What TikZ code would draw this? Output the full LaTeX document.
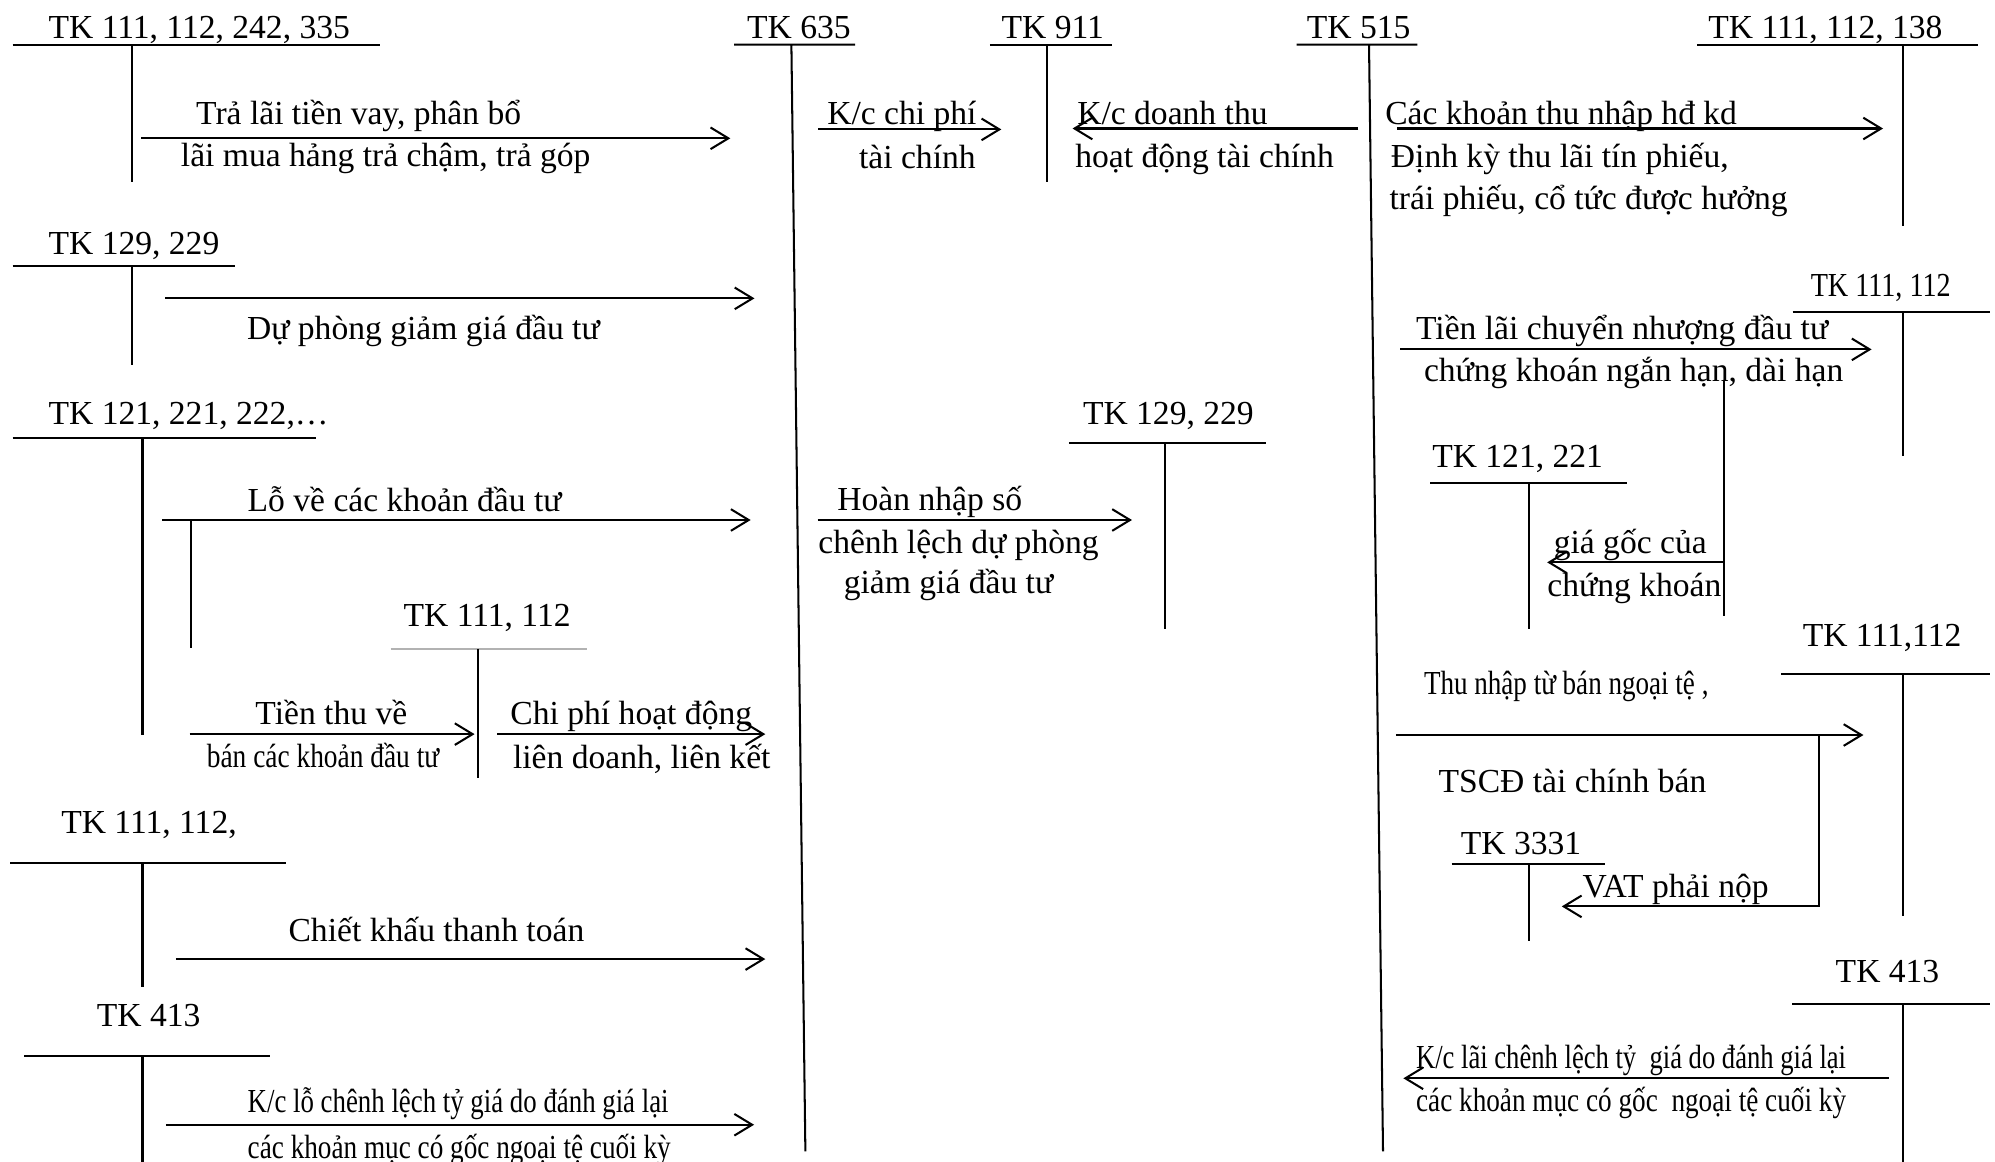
\documentclass[tikz,border=0pt]{standalone}
\usepackage{fontspec}
\setmainfont{Liberation Serif}
\usetikzlibrary{arrows.meta}
% horizontally condensed text of a given width
\newcommand\narrowtext[2]{\resizebox{#1pt}{\height}{#2}}
% T-account: name, left, right, y of bar, stem x at top, stem x at bottom, stem end y
\newcommand\tacct[7]{%
  \coordinate (#1-l) at (#2,#4); \coordinate (#1-r) at (#3,#4);
  \coordinate (#1-t) at (#5,#4); \coordinate (#1-b) at (#6,#7);
  \draw[acct] (#1-l) -- (#1-r) (#1-t) -- (#1-b);}
\begin{document}
\begin{tikzpicture}[x=1pt,y=-1pt,
  every node/.style={inner sep=0pt, anchor=base west, font=\fontsize{26.4}{30}\selectfont},
  acct/.style={line width=1.6pt},
  flow/.style={line width=1.6pt, -{Straight Barb[length=14pt,width=17pt,line width=1.6pt]}},
  plain/.style={line width=1.6pt}]
\useasboundingbox[fill=white] (0,0) rectangle (1568,913);

% ---------- account headers ----------
\node (h1) at (38,30) {TK 111, 112, 242, 335};
\node (h2) at (587,30) {TK 635};
\node (h3) at (787,30) {TK 911};
\node (h4) at (1027,30) {TK 515};
\node (h5) at (1342.5,30) {TK 111, 112, 138};
\node (h6) at (38,200) {TK 129, 229};
\node (h7) at (1423,233) {\narrowtext{110}{TK 111, 112}};
\node (h8) at (38,334) {TK 121, 221, 222,…};
\node (h9) at (851,334) {TK 129, 229};
\node (h10) at (1125.5,367.7) {TK 121, 221};
\node (h11) at (317,492.6) {TK 111, 112};
\node (h12) at (1416.7,508) {TK 111,112};
\node (h13) at (48,655) {TK 111, 112,};
\node (h14) at (1148,671.5) {TK 3331};
\node (h15) at (1442.6,772.4) {TK 413};
\node (h16) at (76,807) {TK 413};

\tacct{t1}{10}{299}{35}{104}{104}{143}
\tacct{t2}{577}{672}{35}{622}{633}{905}
\tacct{t3}{778}{874}{35}{823}{823}{143}
\tacct{t4}{1019}{1114}{35}{1076}{1087}{905}
\tacct{t5}{1334}{1555}{35}{1496}{1496}{178}
\tacct{t6}{10}{185}{209}{104}{104}{287}
\tacct{t7}{1409}{1564}{245.5}{1496}{1496}{358.7}
\tacct{t8}{10}{248}{344}{112}{112}{578}
\tacct{t9}{840}{995}{348.5}{915.4}{915.4}{494}
\tacct{t10}{1124}{1279}{379.5}{1201.7}{1201.7}{494}
\coordinate (t11-l) at (307,510.4); \coordinate (t11-r) at (461,510.4);
\coordinate (t11-t) at (376,510.4); \coordinate (t11-b) at (376,611.6);
\draw[acct, draw=black!30] (t11-l) -- (t11-r);
\draw[acct] (t11-t) -- (t11-b);
\tacct{t12}{1400}{1564}{530}{1496}{1496}{720}
\tacct{t13}{8}{224.6}{678.5}{112}{112}{775.5}
\tacct{t14}{1141}{1261.5}{679}{1201.7}{1201.7}{739.6}
\tacct{t15}{1408.5}{1564}{789.4}{1496}{1496}{913}
\tacct{t16}{19}{212.5}{830}{112}{112}{913}

% ---------- connector end points ----------
\coordinate (a1s) at (111,108.7);   \coordinate (a1e) at (574,108.7);
\coordinate (a2s) at (643,101.7);   \coordinate (a2e) at (787,101.7);
\coordinate (a3s) at (1067.7,101);  \coordinate (a3e) at (843,101);
\coordinate (a4s) at (1098,101);    \coordinate (a4e) at (1480,101);
\coordinate (a5s) at (130,234.5);   \coordinate (a5e) at (593,234.5);
\coordinate (a6s) at (1100.5,274.6);\coordinate (a6e) at (1471,274.6);
\coordinate (a7s) at (127.5,408.7); \coordinate (a7e) at (590,408.7);
\coordinate (a8s) at (642.6,408.7); \coordinate (a8e) at (889.7,408.7);
\coordinate (b1t) at (150,408.7);   \coordinate (b1b) at (150,509.6);
\coordinate (b2t) at (1355,298.7);  \coordinate (b2b) at (1355,484);
\coordinate (a9s) at (1355,442);    \coordinate (a9e) at (1216,442);
\coordinate (a10s) at (149,577);    \coordinate (a10e) at (373,577);
\coordinate (a11s) at (391,577);    \coordinate (a11e) at (601.5,577);
\coordinate (a12s) at (1097,577.7); \coordinate (a12e) at (1464.6,577.7);
\coordinate (a13s) at (1430,577.7); \coordinate (a13e) at (1227.5,712.4);
\coordinate (a14s) at (138.3,753.8);\coordinate (a14e) at (601.5,753.8);
\coordinate (a15s) at (1484.6,847.5);\coordinate (a15e) at (1103,847.5);
\coordinate (a16s) at (130.3,884);  \coordinate (a16e) at (592.7,884);

% ---------- connectors ----------
\draw[flow] (a1s) -- (a1e);
\draw[flow] (a2s) -- (a2e);
\draw[flow] (a3s) -- (a3e);
\draw[flow] (a4s) -- (a4e);
\draw[flow] (a5s) -- (a5e);
\draw[flow] (a6s) -- (a6e);
\draw[flow] (a7s) -- (a7e);
\draw[flow] (a8s) -- (a8e);
\draw[plain] (b1t) -- (b1b);
\draw[plain] (b2t) -- (b2b);
\draw[flow] (a9s) -- (a9e);
\draw[flow] (a10s) -- (a10e);
\draw[flow] (a11s) -- (a11e);
\draw[flow] (a12s) -- (a12e);
\draw[flow] (a13s) |- (a13e);
\draw[flow] (a14s) -- (a14e);
\draw[flow] (a15s) -- (a15e);
\draw[flow] (a16s) -- (a16e);

% ---------- entry texts ----------
\node (l1a) at (154,98.2) {Trả lãi tiền vay, phân bổ};
\node (l1b) at (142,131) {lãi mua hảng trả chậm, trả góp};
\node (l2a) at (650,98.2) {K/c chi phí};
\node (l2b) at (675,132.3) {tài chính};
\node (l3a) at (846.5,98.2) {K/c doanh thu};
\node (l3b) at (845,132) {hoạt động tài chính};
\node (l4a) at (1088.6,98.2) {Các khoản thu nhập hđ kd};
\node (l4b) at (1093,132) {Định kỳ thu lãi tín phiếu,};
\node (l4c) at (1092,165) {trái phiếu, cổ tức được hưởng};
\node (l5) at (194,267.2) {Dự phòng giảm giá đầu tư};
\node (l6a) at (1112.8,267.2) {Tiền lãi chuyển nhượng đầu tư};
\node (l6b) at (1119,300) {chứng khoán ngắn hạn, dài hạn};
\node (l7) at (194.5,402.2) {Lỗ về các khoản đầu tư};
\node (l8a) at (658,400.9) {Hoàn nhập số};
\node (l8b) at (643,434.9) {chênh lệch dự phòng};
\node (l8c) at (663,466.3) {giảm giá đầu tư};
\node (l9a) at (1221,435) {giá gốc của};
\node (l9b) at (1216,468.8) {chứng khoán};
\node (l10a) at (200.6,569.8) {Tiền thu về};
\node (l10b) at (162.4,603) {\narrowtext{182.6}{bán các khoản đầu tư}};
\node (l11a) at (401,569.8) {Chi phí hoạt động};
\node (l11b) at (403,603.7) {liên doanh, liên kết};
\node (l12a) at (1119,546) {\narrowtext{223.6}{Thu nhập từ bán ngoại tệ ,}};
\node (l12b) at (1130.5,622.5) {TSCĐ tài chính bán};
\node (l13) at (1243.7,705) {VAT phải nộp};
\node (l14) at (226.6,739.6) {Chiết khấu thanh toán};
\node (l15a) at (1112.8,839.7) {\narrowtext{337.9}{K/c lãi chênh lệch tỷ \ giá do đánh giá lại}};
\node (l15b) at (1112.8,873.8) {\narrowtext{337.9}{các khoản mục có gốc \ ngoại tệ cuối kỳ}};
\node (l16a) at (194.5,874.3) {\narrowtext{330.8}{K/c lỗ chênh lệch tỷ giá do đánh giá lại}};
\node (l16b) at (194.5,910.4) {\narrowtext{332.5}{các khoản mục có gốc ngoại tệ cuối kỳ}};
\end{tikzpicture}
\end{document}
